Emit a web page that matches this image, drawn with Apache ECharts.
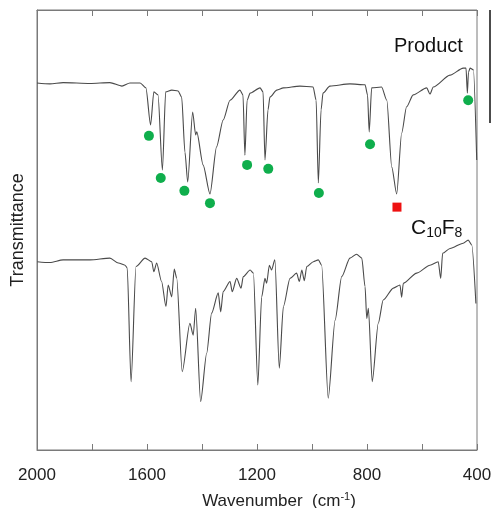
<!DOCTYPE html>
<html>
<head>
<meta charset="utf-8">
<style>
  html, body { margin: 0; padding: 0; background: #fff; }
  #irChart { width: 491px; height: 508px; }
</style>
<script src="https://cdn.jsdelivr.net/npm/echarts@6/dist/echarts.min.js"></script>
</head>
<body>
<div id="irChart"></div>
<script>
// x tick labels shown on the wavenumber axis
var tickLabels = [2000, 1600, 1200, 800, 400];

// Product spectrum: wavenumber / transmittance (arbitrary units, 0-100)
var productWn = [2000, 1953, 1905, 1807, 1735, 1691, 1662, 1625, 1604, 1587, 1575, 1560, 1544, 1532, 1510, 1487, 1474, 1462, 1452, 1434, 1423, 1419, 1396, 1371, 1347, 1323, 1298, 1262, 1251, 1244, 1236, 1225, 1189, 1178, 1171, 1160, 1153, 1128, 1104, 1044, 996, 985, 977, 967, 960, 935, 862, 807, 798, 792, 783, 747, 728, 710, 692, 674, 656, 632, 583, 571, 559, 498, 450, 440, 435, 431, 425, 413, 401];
var productT = [83.4, 83.2, 83.5, 83.3, 83.5, 82.7, 83.4, 83.4, 82.3, 73.9, 81.4, 80.7, 63.6, 81.4, 81.8, 81.6, 80.2, 67.7, 60.9, 76.8, 71.6, 72.3, 64.8, 58.2, 68.9, 75.0, 79.5, 81.8, 80.7, 67.0, 79.5, 81.1, 82.3, 81.4, 65.9, 77.3, 80.2, 81.8, 82.3, 82.7, 82.5, 79.5, 60.7, 77.3, 81.1, 82.7, 83.2, 83.0, 80.7, 72.3, 82.3, 82.5, 79.5, 64.3, 58.2, 72.0, 78.0, 80.7, 82.3, 80.9, 82.5, 85.2, 86.8, 86.8, 81.1, 85.9, 86.8, 86.4, 65.9];

// C10F8 reference spectrum
var c10f8Wn = [1999, 1953, 1905, 1807, 1735, 1704, 1680, 1672, 1658, 1640, 1607, 1583, 1575, 1565, 1547, 1531, 1523, 1510, 1501, 1492, 1472, 1444, 1432, 1423, 1405, 1383, 1365, 1341, 1332, 1323, 1298, 1290, 1274, 1258, 1250, 1225, 1213, 1197, 1183, 1171, 1165, 1155, 1147, 1135, 1119, 1104, 1080, 1056, 1046, 1037, 1028, 1019, 995, 977, 965, 941, 916, 892, 862, 838, 819, 807, 801, 795, 781, 759, 741, 704, 680, 674, 668, 619, 571, 541, 532, 525, 498, 450, 432, 419, 404];
var c10f8T = [42.8, 42.6, 43.2, 43.2, 43.6, 42.5, 42.0, 41.4, 15.5, 41.7, 43.6, 42.8, 40.5, 42.5, 38.3, 32.6, 37.5, 34.8, 41.1, 39.1, 17.8, 28.8, 26.1, 32.2, 11.0, 22.0, 31.1, 35.7, 31.4, 36.0, 38.3, 36.0, 39.0, 36.8, 39.4, 40.9, 40.2, 14.8, 34.8, 39.0, 37.9, 42.0, 40.9, 43.2, 18.6, 32.6, 39.0, 40.2, 38.3, 40.9, 38.5, 41.7, 42.8, 43.2, 42.0, 11.8, 29.5, 39.4, 43.6, 44.5, 43.6, 37.1, 29.9, 32.2, 15.5, 28.8, 34.1, 36.8, 37.5, 34.7, 37.9, 40.2, 42.0, 42.8, 39.0, 44.7, 45.8, 47.0, 47.7, 46.6, 33.3];

// green markers (product bands) and red marker (C10F8 band)
var greenWn = [1593, 1550, 1464, 1371, 1236, 1159, 975, 789, 432];
var greenT = [71.4, 61.8, 58.9, 56.1, 64.8, 63.9, 58.4, 69.5, 79.5];
var redWn = [691];
var redT = [55.2];

function pairs(xs, ys) {
    var out = [];
    for (var i = 0; i < xs.length; i++) {
        out.push([xs[i], ys[i]]);
    }
    return out;
}

var irChart = echarts.init(document.getElementById('irChart'));

var axisGray = '#7a7a7a';
var font = '"Liberation Sans", Arial, sans-serif';

var irOption = {
    animation: false,
    backgroundColor: '#fff',
    textStyle: { fontFamily: font },
    grid: {
        left: 37, right: 14, top: 10, bottom: 58,
        outerBoundsMode: 'none', containLabel: false,
        show: true, borderColor: axisGray, borderWidth: 1
    },
    xAxis: [{
        type: 'value', min: 400, max: 2000, interval: 200, inverse: true,
        axisLine: { show: true, lineStyle: { color: axisGray } },
        axisTick: { show: true, inside: true, length: 6, lineStyle: { color: axisGray } },
        splitLine: { show: false },
        axisLabel: {
            margin: 17, fontSize: 17, color: '#222', fontFamily: font,
            formatter: function (v) { return tickLabels.indexOf(v) >= 0 ? String(v) : ''; }
        },
        name: 'Wavenumber  (cm{sup|-1})',
        nameLocation: 'middle', nameGap: 41,
        nameTextStyle: {
            fontSize: 17, color: '#222', fontFamily: font,
            padding: [0, 0, 0, 44],
            rich: { sup: { fontSize: 11, verticalAlign: 'top', padding: [0, 0, 9, 0], color: '#222' } }
        }
    }, {
        type: 'value', min: 400, max: 2000, interval: 200, inverse: true, position: 'top',
        axisLine: { show: true, lineStyle: { color: axisGray } },
        axisTick: { show: true, inside: true, length: 6, lineStyle: { color: axisGray } },
        splitLine: { show: false },
        axisLabel: { show: false }
    }],
    yAxis: {
        type: 'value', min: 0, max: 100,
        axisLine: { show: true, lineStyle: { color: axisGray } },
        axisTick: { show: false },
        axisLabel: { show: false },
        splitLine: { show: false },
        name: 'Transmittance', nameLocation: 'middle', nameGap: 10,
        nameTextStyle: { fontSize: 18, color: '#222', fontFamily: font }
    },
    series: [{
        type: 'line', data: pairs(productWn, productT), showSymbol: false,
        smooth: 0.25, smoothMonotone: 'x',
        lineStyle: { color: '#4a4a4a', width: 1.1 }
    }, {
        type: 'line', data: pairs(c10f8Wn, c10f8T), showSymbol: false,
        smooth: 0.25, smoothMonotone: 'x',
        lineStyle: { color: '#4a4a4a', width: 1.1 }
    }, {
        type: 'scatter', data: pairs(greenWn, greenT), symbol: 'circle', symbolSize: 10,
        itemStyle: { color: '#0fae4c', opacity: 1 }
    }, {
        type: 'scatter', data: pairs(redWn, redT), symbol: 'rect', symbolSize: 9,
        itemStyle: { color: '#ee1111', opacity: 1 }
    }],
    graphic: [{
        type: 'text', left: 394, top: 36,
        style: { text: 'Product', fontSize: 20, fill: '#111', fontFamily: font }
    }, {
        type: 'text', left: 411, top: 218,
        style: {
            text: 'C{sub|10}F{sub|8}', fontSize: 21, fill: '#111', fontFamily: font,
            rich: { sub: { fontSize: 14, padding: [9, 0, 0, 0], fill: '#111' } }
        }
    }, {
        type: 'line', shape: { x1: 490, y1: 10, x2: 490, y2: 123 },
        style: { stroke: '#111', lineWidth: 1.5 }
    }]
};

irChart.setOption(irOption);
</script>
</body>
</html>
